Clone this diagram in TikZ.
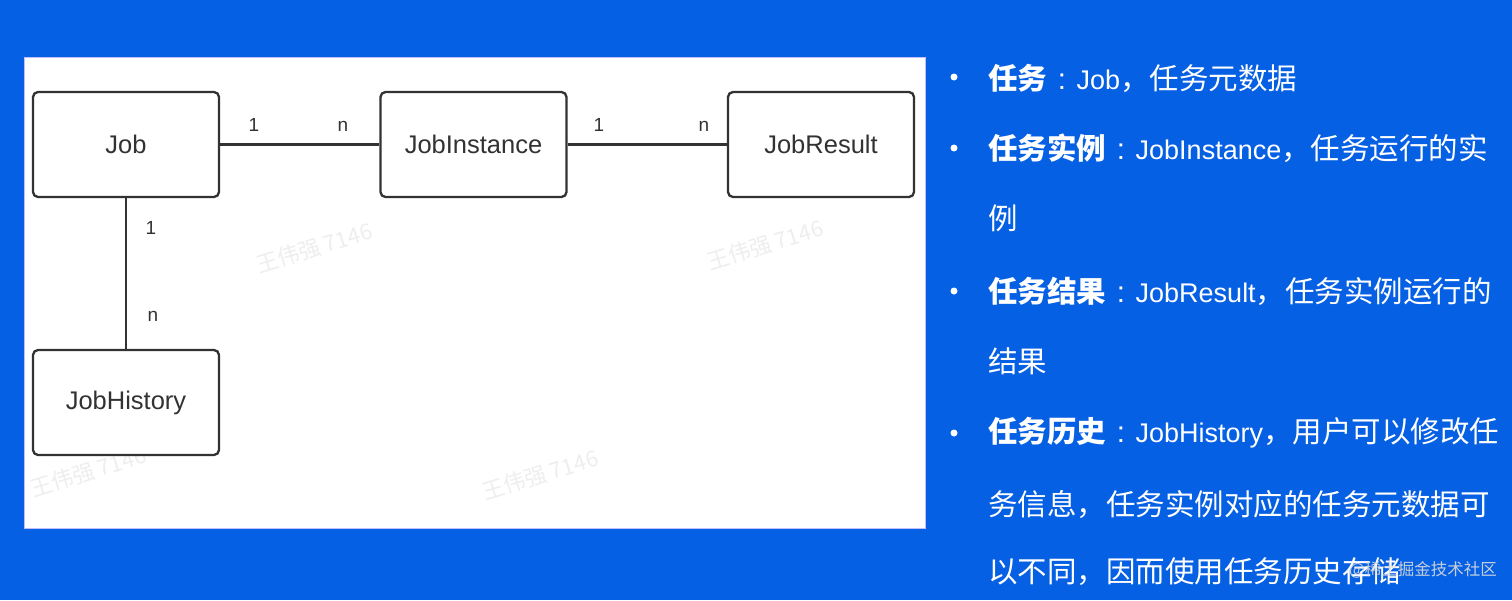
\documentclass[tikz,border=0pt]{standalone}
\usepackage{fontspec}
\setmainfont{Liberation Sans}
\newfontfamily\cjk{Noto Sans CJK SC}
\newfontfamily\latin{Liberation Sans}
\usetikzlibrary{positioning}
\definecolor{slideblue}{RGB}{6,96,228}
\definecolor{boxline}{RGB}{50,50,50}
\newcommand{\lat}[1]{{\latin\fontsize{27}{32}\selectfont #1}}
\newcommand{\colonsp}{\makebox[29.5pt]{\latin :}}

\begin{document}
\begin{tikzpicture}[x=1pt,y=-1pt,
  entity/.style={draw=boxline,line width=2.3pt,rounded corners=5pt,fill=white,
    minimum width=186pt,minimum height=105pt,inner sep=0pt,
    font=\fontsize{25.5}{30}\selectfont,text=boxline},
  mult/.style={font=\fontsize{19}{22}\selectfont,text=boxline,inner sep=0pt},
  relline/.style={draw=boxline,line width=2.3pt},
  item/.style={anchor=west,inner sep=0pt,text=white,
    font=\cjk\fontsize{29.5}{34}\selectfont},
  wmark/.style={text=gray!13,font=\cjk\fontsize{22}{26}\selectfont,rotate=17}]
  % Slide background
  \fill[slideblue] (0,0) rectangle (1512,600);
  \useasboundingbox (0,0) rectangle (1512,600);
  % Diagram panel
  \fill[white] (24,57) rectangle (925,528);
  \draw[blue!25,line width=0.8pt] (24,57) rectangle (925,528);
  % Watermarks
  \begin{scope}
    \clip (24,57) rectangle (925,528);
    \node[wmark] (wmA) at (314,248) {王伟强 7146};
    \node[wmark] (wmB) at (765,245) {王伟强 7146};
    \node[wmark] (wmC) at (540,475) {王伟强 7146};
    \node[wmark] (wmD) at (88,472) {王伟强 7146};
  \end{scope}
  % Entities
  \node[entity] (job)  at (126,144.5)   {Job};
  \node[entity] (inst) at (473.5,144.5) {JobInstance};
  \node[entity] (res)  at (821,144.5)   {JobResult};
  \node[entity] (hist) at (126,402.5)   {JobHistory};
  % Relations
  \draw[relline] (job) -- (inst);
  \draw[relline] (inst) -- (res);
  \draw[relline] (job) -- (hist);
  % Multiplicities
  \node[mult] (jobinstA) at (254,125) {1};
  \node[mult] (jobinstB) at (343,126) {n};
  \node[mult] (instresA) at (599,125) {1};
  \node[mult] (instresB) at (704,126) {n};
  \node[mult] (jobhistA) at (151,228) {1};
  \node[mult] (jobhistB) at (153,316) {n};
  % Bullet list
  \foreach \y in {77,148,291,433}
    \fill[white] (954,\y) circle (3.5);
  \node[item] (lineA) at (988,78)  {{\bfseries 任务}\colonsp\lat{Job}，任务元数据};
  \node[item] (lineB) at (988,148) {{\bfseries 任务实例}\colonsp\lat{JobInstance}，任务运行的实};
  \node[item] (lineC) at (988,218) {例};
  \node[item] (lineD) at (988,291) {{\bfseries 任务结果}\colonsp\lat{JobResult}，任务实例运行的};
  \node[item] (lineE) at (988,361) {结果};
  \node[item] (lineF) at (988,433) {{\bfseries 任务历史}\colonsp\lat{JobHistory}，用户可以修改任};
  \node[item] (lineG) at (988,505) {务信息，任务实例对应的任务元数据可};
  \node[item] (lineH) at (988,572) {以不同，因而使用任务历史存储};
  % Site watermark
  \node[anchor=west,inner sep=0pt,text=white!72!gray,opacity=0.9,
    font=\cjk\fontsize{16.5}{19}\selectfont] (site) at (1349,570) {@稀土掘金技术社区};
\end{tikzpicture}
\end{document}
